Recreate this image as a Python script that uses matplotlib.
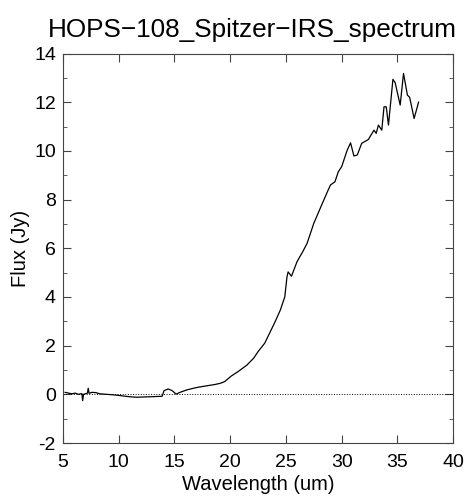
import matplotlib
matplotlib.use("Agg")
import matplotlib.pyplot as plt
from matplotlib.ticker import MultipleLocator

plt.rcParams['font.family'] = ['Liberation Sans', 'DejaVu Sans']
plt.rcParams['axes.unicode_minus'] = False

wavelength = [5.2, 5.5, 5.8, 6.1, 6.4, 6.7, 6.77, 6.85, 7.0, 7.2,
              7.27, 7.35, 7.6, 7.96, 8.3, 8.9, 9.5, 10.1, 10.6, 11.0,
              11.6, 12.2, 12.8, 13.4, 13.9, 14.07, 14.45, 14.8, 15.15, 15.5,
              16.1, 17.0, 17.9, 18.6, 19.1, 19.5, 20.1, 20.7, 21.5, 22.1,
              22.5, 23.1, 23.6, 24.0, 24.5, 24.9, 25.1, 25.2, 25.5, 26.0,
              26.5, 26.9, 27.5, 28.2, 28.8, 29.0, 29.4, 29.7, 30.0, 30.5,
              30.8, 31.1, 31.4, 31.8, 32.4, 32.9, 33.1, 33.3, 33.6, 33.8,
              34.0, 34.2, 34.6, 34.8, 35.25, 35.55, 35.9, 36.1, 36.5, 36.9]
flux = [0.08, 0.05, 0.02, 0.05, 0.0, 0.03, -0.26, 0.0, 0.02, 0.05,
        0.25, 0.04, 0.08, 0.07, 0.02, 0.0, -0.02, -0.05, -0.08, -0.1,
        -0.12, -0.11, -0.1, -0.09, -0.08, 0.15, 0.22, 0.15, 0.01, 0.08,
        0.18, 0.28, 0.35, 0.4, 0.45, 0.52, 0.75, 0.93, 1.2, 1.48,
        1.75, 2.1, 2.57, 2.95, 3.46, 4.0, 4.83, 5.03, 4.85, 5.45,
        5.85, 6.2, 7.02, 7.77, 8.4, 8.6, 8.73, 9.14, 9.35, 10.03,
        10.33, 9.79, 9.83, 10.31, 10.47, 10.85, 10.72, 11.06, 10.85, 11.81,
        11.81, 11.06, 12.94, 12.8, 11.88, 13.18, 12.29, 12.2, 11.33, 12.0]

fig = plt.figure(figsize=(4.73, 5.0), dpi=100)
ax = fig.add_axes([0.133, 0.114, 0.825, 0.779])

ax.plot(wavelength, flux, color="black", linewidth=0.9)
ax.axhline(0, color="black", linestyle=":", linewidth=0.7)

ax.set_xlim(5, 40)
ax.set_ylim(-2, 14)
ax.xaxis.set_major_locator(MultipleLocator(5))
ax.yaxis.set_major_locator(MultipleLocator(2))
ax.yaxis.set_minor_locator(MultipleLocator(1))
ax.tick_params(which="both", direction="in", top=True, right=True, labelsize=14, color="#444444")
ax.tick_params(which="major", length=6)
ax.tick_params(which="minor", length=3)
ax.tick_params(axis="x", pad=8)
ax.tick_params(axis="y", pad=5)
for s in ax.spines.values():
    s.set_color("#444444")

ax.set_xlabel("Wavelength (um)", fontsize=14.5, labelpad=3)
ax.set_ylabel("Flux (Jy)", fontsize=14.5, labelpad=3)
ax.set_title("HOPS\u2212108_Spitzer\u2212IRS_spectrum", fontsize=18.8, pad=12, x=0.485)

fig.savefig("out.png")
